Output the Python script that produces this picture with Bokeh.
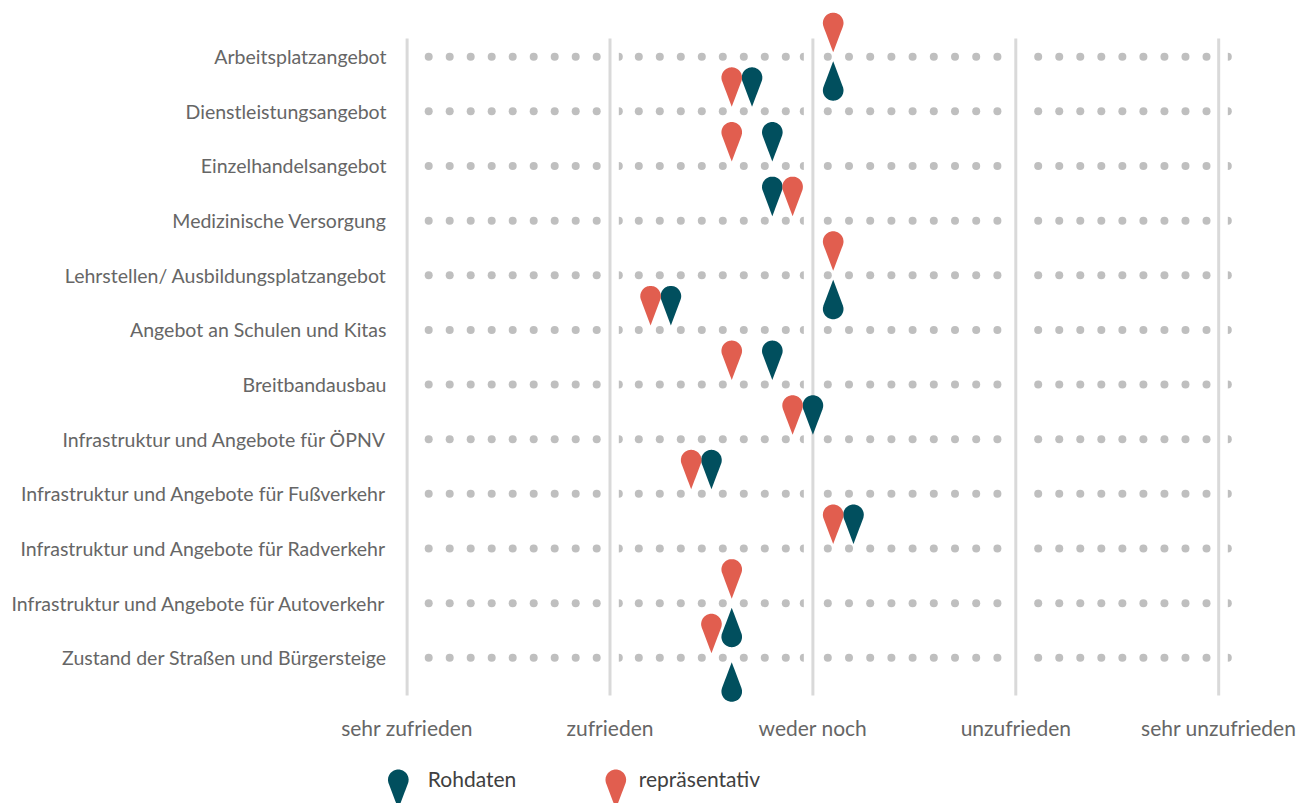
import numpy as np
from bokeh.plotting import figure
from bokeh.layouts import column
from bokeh.models import Range1d, FixedTicker
from bokeh.core.properties import value
from bokeh.embed import file_html
from bokeh.resources import INLINE

# ---------------- data ----------------
kategorien = [
    "Arbeitsplatzangebot",
    "Dienstleistungsangebot",
    "Einzelhandelsangebot",
    "Medizinische Versorgung",
    "Lehrstellen/ Ausbildungsplatzangebot",
    "Angebot an Schulen und Kitas",
    "Breitbandausbau",
    "Infrastruktur und Angebote für ÖPNV",
    "Infrastruktur und Angebote für Fußverkehr",
    "Infrastruktur und Angebote für Radverkehr",
    "Infrastruktur und Angebote für Autoverkehr",
    "Zustand der Straßen und Bürgersteige",
]
rohdaten = [3.1, 2.7, 2.8, 2.8, 3.1, 2.3, 2.8, 3.0, 2.5, 3.2, 2.6, 2.6]
repraesentativ = [3.1, 2.6, 2.6, 2.9, 3.1, 2.2, 2.6, 2.9, 2.4, 3.1, 2.6, 2.5]
# Rohdaten-Marker, die unterhalb der Zeile (nach oben zeigend) sitzen
rohdaten_unten = [True, False, False, False, True, False, False, False, False, False, True, True]
skala_werte = [1, 2, 3, 4, 5]
skala_labels = ["sehr zufrieden", "zufrieden", "weder noch", "unzufrieden", "sehr unzufrieden"]
serien_namen = ["Rohdaten", "repräsentativ"]

# ---------------- style / layout ----------------
FARBE_ROH = "#014F5E"
FARBE_REP = "#E15E4F"
FONT = "Lato"
Y_LABEL_SIZE = "19.5px"
X_LABEL_SIZE = "21px"

PX_X = 202.9     # pixels per scale unit
PX_Y = 54.645    # pixels per row
LEFT, RIGHT, TOP, BOTTOM = 386, 63, 8, 45
FRAME_W, FRAME_H = 854, 700

x_start = 1 - 20.6 / PX_X
x_end = x_start + FRAME_W / PX_X
y_top = -48.2 / PX_Y
y_bottom = y_top + FRAME_H / PX_Y

# pin (teardrop) outline in pixels, tip at origin, axis along u
R, L, TIP = 10.3, 39.5, 4.5
D = L - R
beta = np.arccos(R / D)
ang = np.linspace(beta - np.pi / 2, 3 * np.pi / 2 - beta, 48)
shape_x = np.concatenate([[0.0], R * np.cos(ang), [0.0]])
shape_u = np.concatenate([[0.0], D + R * np.sin(ang), [0.0]])


def pin(v, row, s):
    """s=+1: pin above row pointing down; s=-1: below, pointing up"""
    xs = (v + shape_x / PX_X).tolist()
    ys = (row - s * (TIP + shape_u) / PX_Y).tolist()
    return xs, ys


p = figure(
    frame_width=FRAME_W, frame_height=FRAME_H,
    min_border_left=LEFT, min_border_right=RIGHT,
    min_border_top=TOP, min_border_bottom=BOTTOM,
    x_range=Range1d(x_start, x_end), y_range=Range1d(y_bottom, y_top),
    toolbar_location=None, output_backend="svg", title=None,
)
p.outline_line_color = None
p.xgrid.visible = False
p.ygrid.visible = False

# vertical scale lines
p.segment(x0=skala_werte, x1=skala_werte,
          y0=[-18.2 / PX_Y] * len(skala_werte),
          y1=[len(kategorien) - 1 + 37.7 / PX_Y] * len(skala_werte),
          line_color="#D9D9D9", line_width=3)

# dotted row guides (decoration): (segment start, first offset px, step px, count)
dot_muster = [(1, 21.6, 21.0, 9), (2, 28.8, 21.0, 8), (3, 14.9, 21.2, 9), (4, 22.4, 21.04, 9)]
halb_muster = [(2, 8.8, "r"), (2, 193.8, "l"), (5, 9.1, "r")]
n_rows = len(kategorien)
dx, dy = [], []
for start, off, step, cnt in dot_muster:
    for k in range(cnt):
        for r in range(n_rows):
            dx.append(start + (off + k * step) / PX_X)
            dy.append(r)
p.scatter(dx, dy, size=8, marker="circle", fill_color="#BFBFBF", line_color=None)
for start, off, side in halb_muster:
    a0, a1 = (-np.pi / 2, np.pi / 2) if side == "r" else (np.pi / 2, 3 * np.pi / 2)
    p.wedge(x=[start + off / PX_X] * n_rows, y=list(range(n_rows)), radius=4,
            radius_units="screen", start_angle=a0, end_angle=a1,
            fill_color="#BFBFBF", line_color=None)

# pins
rx, ry, tx, ty = [], [], [], []
for i in range(n_rows):
    xs, ys = pin(repraesentativ[i], i, +1)
    rx.append(xs); ry.append(ys)
    xs, ys = pin(rohdaten[i], i, -1 if rohdaten_unten[i] else +1)
    tx.append(xs); ty.append(ys)
p.patches(tx, ty, fill_color=FARBE_ROH, line_color=None)
p.patches(rx, ry, fill_color=FARBE_REP, line_color=None)

# axes
for ax in (p.xaxis, p.yaxis):
    ax.axis_line_color = None
    ax.major_tick_line_color = None
    ax.minor_tick_line_color = None
    ax.major_tick_out = 0
    ax.major_tick_in = 0
    ax.minor_tick_out = 0
    ax.minor_tick_in = 0
    ax.major_label_text_font = FONT
    ax.major_label_text_color = "#666666"
p.xaxis.major_label_text_font_size = X_LABEL_SIZE
p.yaxis.major_label_text_font_size = Y_LABEL_SIZE
p.xaxis.ticker = FixedTicker(ticks=skala_werte)
p.xaxis.major_label_overrides = {v: t for v, t in zip(skala_werte, skala_labels)}
p.xaxis.major_label_standoff = 6
p.yaxis.ticker = FixedTicker(ticks=list(range(n_rows)))
p.yaxis.major_label_overrides = {i: t for i, t in enumerate(kategorien)}
p.yaxis.major_label_standoff = 0

# legend strip (same horizontal frame as the chart; x in page pixels)
LEG_H = 50
q = figure(
    frame_width=FRAME_W, frame_height=LEG_H,
    min_border_left=LEFT, min_border_right=RIGHT, min_border_top=0, min_border_bottom=0,
    x_range=Range1d(LEFT, LEFT + FRAME_W), y_range=Range1d(LEG_H, 0),
    toolbar_location=None, output_backend="svg", title=None,
    x_axis_type=None, y_axis_type=None,
)
q.outline_line_color = None
q.xgrid.visible = False
q.ygrid.visible = False
leg_pin_x = [397.8, 615.3]
leg_text_x = [427.3, 638.3]
leg_farben = [FARBE_ROH, FARBE_REP]
tip_y = 16 + L
q.patches([(cx + shape_x).tolist() for cx in leg_pin_x],
          [(tip_y - shape_u).tolist() for _ in leg_pin_x],
          fill_color=leg_farben, line_color=None)
q.text(x=leg_text_x, y=[25, 25], text=serien_namen, text_font=value(FONT),
       text_font_size=X_LABEL_SIZE, text_color="#404040",
       text_align="left", text_baseline="middle")

layout = column(p, q)
open("out.html", "w", encoding="utf-8").write(file_html(layout, INLINE))
